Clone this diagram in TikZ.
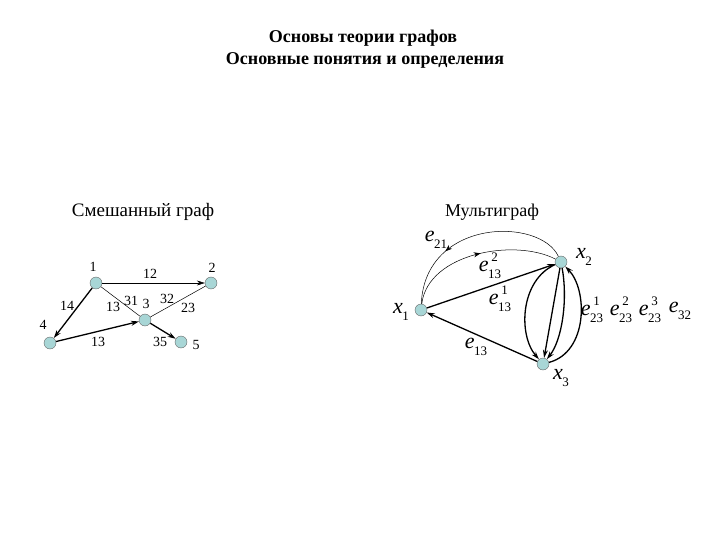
\documentclass[tikz,border=0pt]{standalone}
\usepackage{fontspec}
\setmainfont{Liberation Serif}
\usetikzlibrary{arrows.meta,decorations.markings}
\definecolor{vfill}{RGB}{168,214,214}
\newcommand{\myidx}[3]{\textit{#1}\kern-0.03em\makebox[0pt][l]{\raisebox{0.45em}{\fontsize{13}{13}\selectfont\hspace{0.25em}#2}}\raisebox{-0.3em}{\fontsize{13}{13}\selectfont #3}}
\tikzset{
  vert/.style={circle,draw=gray!80!black,fill=vfill,minimum size=12pt,inner sep=0pt},
  lab/.style={font=\fontsize{14}{14}\selectfont,inner sep=1pt},
  mlab/.style={font=\fontsize{22}{22}\selectfont,inner sep=1pt},
  thin edge/.style={line width=0.5pt},
  thick edge/.style={line width=1.3pt},
  tip/.style={-{Stealth[length=8pt,width=5pt]}},
  midarrow/.style={postaction={decorate},decoration={markings,mark=at position #1 with {\arrow{Stealth[length=7pt,width=5pt]}}}}
}
\begin{document}
\begin{tikzpicture}[x=1pt,y=-1pt]
\useasboundingbox (0,0) rectangle (720,540);
% titles
\node[font=\fontsize{18}{18}\selectfont\bfseries] (t1) at (363,38) {Основы теории графов};
\node[font=\fontsize{18}{18}\selectfont\bfseries] (t2) at (365,60) {Основные понятия и определения};
\node[font=\fontsize{19}{19}\selectfont] (h1) at (143,212) {Смешанный граф};
\node[font=\fontsize{18}{18}\selectfont] (h2) at (492,212) {Мультиграф};
% left graph
\node[vert] (n1) at (96,283) {};
\node[vert] (n2) at (211,283) {};
\node[vert] (n3) at (145,320) {};
\node[vert] (n4) at (50,343) {};
\node[vert] (n5) at (181,342) {};
\node[lab] (l1) at (93,267) {1};
\node[lab] (l2) at (212,268) {2};
\node[lab] (l3) at (146,304) {3};
\node[lab] (l4) at (43,325) {4};
\node[lab] (l5) at (196,345) {5};
\draw[thin edge,tip] (n1) -- (n2);
\draw[thick edge,tip] (n1) -- (n4);
\draw[thin edge] (n1) -- (n3);
\draw[thin edge] (n2) -- (n3);
\draw[thick edge,tip] (n4) -- (n3);
\draw[thick edge,tip] (n3) -- (n5);
\node[lab] (e12) at (150,274) {12};
\node[lab] (e14) at (67,306) {14};
\node[lab] (e13) at (113,307) {13};
\node[lab] (e31) at (131,301) {31};
\node[lab] (e32) at (167,299) {32};
\node[lab] (e23) at (188,308) {23};
\node[lab] (e43) at (98,342) {13};
\node[lab] (e35) at (160,342) {35};
% right graph
\node[vert] (x1) at (421,310) {};
\node[vert] (x2) at (561,262) {};
\node[vert] (x3) at (543,364) {};
\node[mlab] (lx1) at (401,312) {\myidx{x}{}{1}};
\node[mlab] (lx2) at (584,257) {\myidx{x}{}{2}};
\node[mlab] (lx3) at (561,378) {\myidx{x}{}{3}};
\draw[thick edge,tip] (x1) -- (x2);
\draw[thick edge,tip] (x3) -- (x1);
\draw[thin edge,midarrow=0.68] (x2) .. controls (540,217) and (425,218) .. (x1);
\draw[thin edge,midarrow=0.52] (x1) .. controls (428,253) and (515,238) .. (x2);
\draw[thick edge,tip] (x2) .. controls (520,280) and (518,335) .. (x3);
\draw[thick edge,tip] (x2) -- (x3);
\draw[thick edge,tip] (x2) .. controls (568,300) and (562,340) .. (x3);
\draw[thick edge,tip] (x3) .. controls (588,352) and (588,290) .. (x2);
\node[mlab] (m21) at (436,240) {\myidx{e}{}{21}};
\node[mlab] (m132) at (490,266) {\myidx{e}{2}{13}};
\node[mlab] (m131) at (500,299) {\myidx{e}{1}{13}};
\node[mlab] (m13) at (476,347) {\myidx{e}{}{13}};
\node[mlab] (m231) at (592,310) {\myidx{e}{1}{23}};
\node[mlab] (m232) at (621,310) {\myidx{e}{2}{23}};
\node[mlab] (m233) at (650,310) {\myidx{e}{3}{23}};
\node[mlab] (m32) at (680,311) {\myidx{e}{}{32}};
\end{tikzpicture}
\end{document}
